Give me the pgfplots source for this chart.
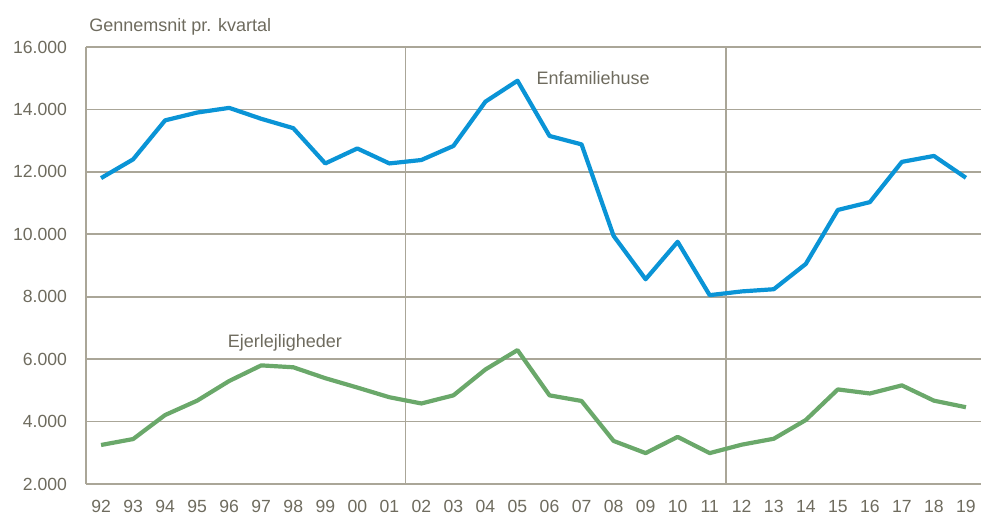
\documentclass[border=0pt]{standalone}
\usepackage{pgfplots}
\pgfplotsset{compat=1.18}
\usepackage{fontspec}
\setmainfont{Liberation Sans}
\definecolor{blueline}{RGB}{10,148,214}
\definecolor{greenline}{RGB}{106,168,106}
\definecolor{txtgray}{RGB}{110,107,94}
\definecolor{gridgray}{RGB}{170,166,152}
\begin{document}
\begin{tikzpicture}
\path[use as bounding box] (-43pt,-18.5pt) rectangle (448.5pt,242pt);
\begin{axis}[
  at={(0,0)}, anchor=south west,
  scale only axis,
  width=447.5pt, height=218.5pt,
  xmin=-0.47, xmax=27.47,
  ymin=2000, ymax=16000,
  axis lines=left,
  axis line style={draw=gridgray, line width=0.85pt, -},
  xtick={0,...,27},
  xticklabels={92,93,94,95,96,97,98,99,00,01,02,03,04,05,06,07,08,09,10,11,12,13,14,15,16,17,18,19},
  ytick={2000,4000,...,16000},
  scaled y ticks=false,
  ymajorgrids,
  grid style={draw=gridgray, line width=0.85pt},
  extra x ticks={9.5,19.5},
  extra x tick labels={},
  extra x tick style={grid=major, major tick length=0pt},
  major tick length=0pt,
  tick style={draw=none},
  yticklabel={\pgfmathprintnumber[fixed, 1000 sep={.}, assume math mode=true]{\tick}},
  ticklabel style={font=\fontsize{8.8}{10}\selectfont, text=txtgray},
  xticklabel style={yshift=-4.5pt},
  yticklabel style={xshift=-6pt},
  clip=false,
]
\addplot[blueline, line width=2.1pt, line join=round] coordinates {
(0,11800) (1,12400) (2,13650) (3,13900) (4,14050) (5,13700) (6,13400) (7,12270) (8,12750) (9,12270)
(10,12380) (11,12830) (12,14250) (13,14920) (14,13150) (15,12880) (16,9950) (17,8560) (18,9760) (19,8050)
(20,8170) (21,8240) (22,9050) (23,10780) (24,11030) (25,12320) (26,12510) (27,11810)};
\addplot[greenline, line width=2.1pt, line join=round] coordinates {
(0,3250) (1,3440) (2,4210) (3,4670) (4,5300) (5,5800) (6,5740) (7,5390) (8,5090) (9,4780)
(10,4580) (11,4840) (12,5670) (13,6290) (14,4840) (15,4660) (16,3380) (17,2990) (18,3510) (19,2990)
(20,3260) (21,3450) (22,4050) (23,5030) (24,4900) (25,5160) (26,4670) (27,4460)};
\node[text=txtgray, font=\fontsize{9}{10}\selectfont] at (axis cs:15.36,15000) {Enfamiliehuse};
\node[text=txtgray, font=\fontsize{9}{10}\selectfont] at (axis cs:5.74,6520) {Ejerlejligheder};
\end{axis}
\node[anchor=west, inner sep=0pt, text=txtgray, font=\fontsize{9}{10}\selectfont] at (1.5pt,228.5pt) {Gennemsnit pr. kvartal};
\end{tikzpicture}
\end{document}
